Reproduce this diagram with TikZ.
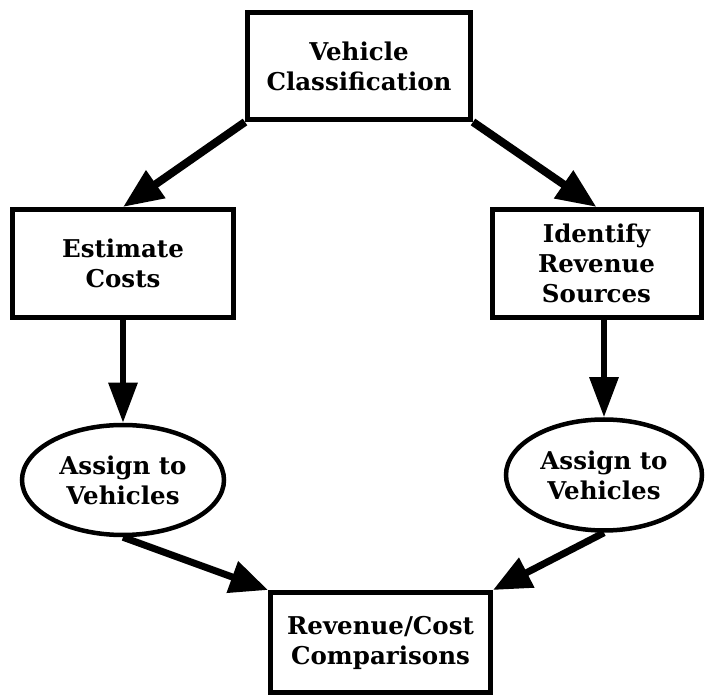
\documentclass[tikz,border=0pt]{standalone}
\usepackage{fontspec}
\setmainfont{DejaVu Serif}
\usetikzlibrary{arrows.meta,shapes.geometric}
\begin{document}
\begin{tikzpicture}[x=1pt,y=-1pt,
  lbl/.style={font=\bfseries\fontsize{24.5}{30}\selectfont, align=center, inner sep=0pt},
  boxnode/.style={lbl, draw, line width=5pt, rectangle},
  ovalnode/.style={lbl, draw, line width=4.5pt, ellipse},
  diagarrow/.style={line width=8pt, -{Triangle[length=40pt,width=32pt]}},
  downarrow/.style={line width=6pt, -{Triangle[length=40pt,width=28pt]}},
  lowarrow/.style={line width=7pt, -{Triangle[length=38pt,width=32pt]}}
]
\useasboundingbox (0,0) rectangle (705,700);
\node[boxnode, minimum width=223pt, minimum height=107pt] (top) at (359,66) {Vehicle\\Classification};
\node[boxnode, minimum width=221pt, minimum height=108pt] (est) at (123,263.5) {Estimate\\Costs};
\node[boxnode, minimum width=209pt, minimum height=108pt] (rev) at (596.5,263.5) {Identify\\Revenue\\Sources};
\node[ovalnode, minimum width=202pt, minimum height=110pt] (lell) at (123,480) {Assign to\\Vehicles};
\node[ovalnode, minimum width=196pt, minimum height=111pt] (rell) at (604,475) {Assign to\\Vehicles};
\node[boxnode, minimum width=220pt, minimum height=100pt] (bot) at (380.5,642.5) {Revenue/Cost\\Comparisons};
\draw[diagarrow] (top.south west) -- (est.north);
\draw[diagarrow] (top.south east) -- (rev.north);
\draw[downarrow] (est.south) -- (lell.north);
\draw[downarrow] (rell.north |- rev.south) -- (rell.north);
\draw[lowarrow] (lell.south) -- (bot.north west);
\draw[lowarrow] (rell.south) -- (bot.north east);
\end{tikzpicture}
\end{document}
